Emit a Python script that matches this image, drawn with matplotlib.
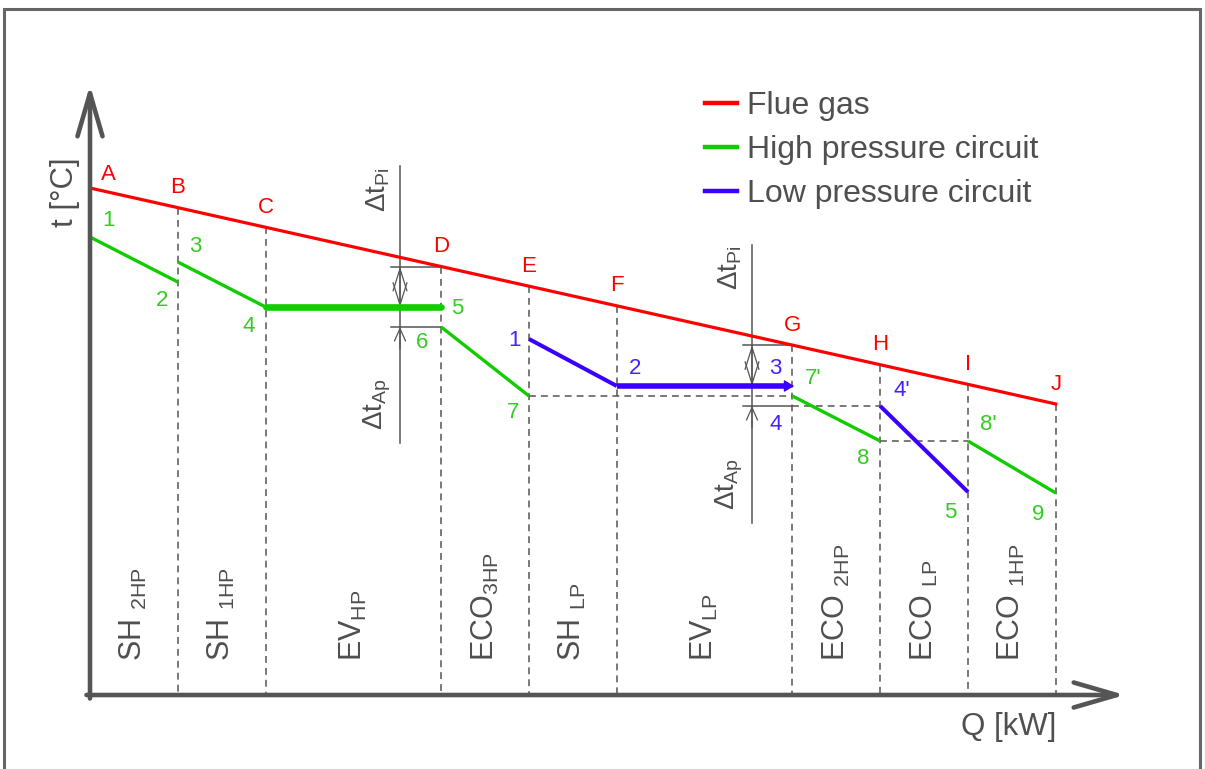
import numpy as np
import matplotlib
matplotlib.use('Agg')
import matplotlib.pyplot as plt
from matplotlib.patches import Rectangle
from matplotlib.lines import Line2D

plt.rcParams['font.family'] = ['Liberation Sans', 'DejaVu Sans']
plt.rcParams['mathtext.fontset'] = 'custom'
plt.rcParams['mathtext.rm'] = 'Liberation Sans'
plt.rcParams['mathtext.it'] = 'Liberation Sans'
plt.rcParams['mathtext.bf'] = 'Liberation Sans:bold'

# ---------------- data ----------------
node_names = ['A', 'B', 'C', 'D', 'E', 'F', 'G', 'H', 'I', 'J']
node_Q = [0, 1, 2, 4, 5, 6, 8, 9, 10, 11]
flue_Q = [0, 11]
flue_t = [507, 291]

hp_names = ['1', '2', '3', '4', '5', '6', '7', "7'", '8', "8'", '9']
hp_Q = [0, 1, 1, 2, 4, 4, 5, 8, 9, 10, 11]
hp_t = [458, 413, 433, 388, 388, 368, 299, 299, 254, 254, 202]
hp_links = [(0, 1), (2, 3), (5, 6), (7, 8), (9, 10)]
hp_evap_link = (3, 4)

lp_names = ['1', '2', '3', '4', "4'", '5']
lp_Q = [5, 6, 8, 8, 9, 10]
lp_t = [356, 309, 309, 289, 289, 203]
lp_links = [(0, 1), (4, 5)]
lp_evap_link = (1, 2)

sections = [r'$\mathrm{SH}\ {}_{\mathrm{2HP}}$', r'$\mathrm{SH}\ {}_{\mathrm{1HP}}$',
            r'$\mathrm{EV}_{\mathrm{HP}}$', r'$\mathrm{ECO}_{\mathrm{3HP}}$',
            r'$\mathrm{SH}\ {}_{\mathrm{LP}}$', r'$\mathrm{EV}_{\mathrm{LP}}$',
            r'$\mathrm{ECO}\ {}_{\mathrm{2HP}}$', r'$\mathrm{ECO}\ {}_{\mathrm{LP}}$',
            r'$\mathrm{ECO}\ {}_{\mathrm{1HP}}$']

# ---------------- style ----------------
RED = '#ff0000'
GREEN = '#11cc00'
BLUE = '#3a00ff'
GTXT = '#33cc22'
BTXT = '#4422ff'
GRAY = '#555555'
TXT = '#4f4f4f'
PX = 87.8  # pixels per Q unit
LFS = 16   # point label font size

fig = plt.figure(figsize=(12.05, 7.69), dpi=100)
ax = fig.add_axes([0, 0, 1, 1])
ax.set_xlim(-90 / PX, (1205 - 90) / PX)
ax.set_ylim(695 - 769, 695)
ax.axis('off')

# frame
fig.add_artist(Rectangle((4 / 1205, -0.05), 1196 / 1205, (769 - 9) / 769 + 0.05,
                         transform=fig.transFigure, fill=False, ec='#666666', lw=2.2))

def flue(q):
    return np.interp(q, flue_Q, flue_t)

# vertical dashed lines
for q in node_Q[1:]:
    ax.plot([q, q], [flue(q), 0], color=GRAY, lw=1.1, dashes=(4.5, 3.3), zorder=1)

# horizontal dashed lines
ax.plot([hp_Q[6], hp_Q[7]], [hp_t[6], hp_t[7]], color=GRAY, lw=1.1, dashes=(4.5, 3.3), zorder=1)
ax.plot([lp_Q[3], lp_Q[4]], [lp_t[3], lp_t[4]], color=GRAY, lw=1.1, dashes=(4.5, 3.3), zorder=1)
ax.plot([hp_Q[8], hp_Q[9]], [hp_t[8], hp_t[9]], color=GRAY, lw=1.1, dashes=(4.5, 3.3), zorder=1)

# flue gas
ax.plot(flue_Q, flue_t, color=RED, lw=2.3, zorder=4)

# HP circuit
for i, j in hp_links:
    ax.plot([hp_Q[i], hp_Q[j]], [hp_t[i], hp_t[j]], color=GREEN, lw=2.4, zorder=4,
            solid_capstyle='butt')
i, j = hp_evap_link
ax.plot([hp_Q[i], hp_Q[j]], [hp_t[i], hp_t[j]], color=GREEN, lw=4.8, zorder=4,
        solid_capstyle='round')

# LP circuit
for i, j in lp_links:
    ax.plot([lp_Q[i], lp_Q[j]], [lp_t[i], lp_t[j]], color=BLUE, lw=2.9, zorder=4,
            solid_capstyle='butt')
i, j = lp_evap_link
ax.plot([lp_Q[i], lp_Q[j] - 0.06], [lp_t[i], lp_t[j]], color=BLUE, lw=4.0, zorder=4,
        solid_capstyle='butt')
ax.annotate('', xy=(lp_Q[j] + 0.02, lp_t[j]), xytext=(lp_Q[j] - 0.1, lp_t[j]),
            arrowprops=dict(arrowstyle='-|>,head_length=0.5,head_width=0.3', color=BLUE,
                            lw=1.0, shrinkA=0, shrinkB=0, mutation_scale=12), zorder=5)

# axes arrows
astyle = '->,head_length=1.55,head_width=0.45'
ax.annotate('', xy=(0, 610), xytext=(0, -3.5),
            arrowprops=dict(arrowstyle=astyle, lw=3.3, color=GRAY, shrinkA=0, shrinkB=0,
                            mutation_scale=20), zorder=6)
ax.annotate('', xy=((1125 - 90) / PX, 0), xytext=(-3.5 / PX, 0),
            arrowprops=dict(arrowstyle=astyle, lw=3.3, color=GRAY, shrinkA=0, shrinkB=0,
                            mutation_scale=20), zorder=6)
ax.text(-25 / PX, 503, 't [°C]', rotation=90, ha='center', va='center', fontsize=22.5, color=TXT)
ax.text((1009 - 90) / PX, -32, 'Q [kW]', ha='center', va='center', fontsize=22.5, color=TXT)

# node letters
for k, (name, q) in enumerate(zip(node_names, node_Q)):
    off = (18, 13) if k == 0 else (0, 20)
    ax.annotate(name, (q, flue(q)), xytext=off, textcoords='offset pixels',
                ha='center', va='center', fontsize=LFS, color=RED, zorder=7)

hp_off = [(18, 17), (-16, -18), (17, 15), (-17, -20), (16, -1), (-19, -16),
          (-16, -17), (21, 18), (-17, -17), (20, 16), (-18, -22)]
for name, q, t, off in zip(hp_names, hp_Q, hp_t, hp_off):
    ax.annotate(name, (q, t), xytext=off, textcoords='offset pixels',
                ha='center', va='center', fontsize=LFS, color=GTXT, zorder=7)

lp_off = [(-15, -1), (18, 18), (-17, 18), (-17, -19), (22, 16), (-18, -20)]
lp_col = [BTXT, BTXT, BTXT, BTXT, BTXT, GTXT]
for name, q, t, off, c in zip(lp_names, lp_Q, lp_t, lp_off, lp_col):
    ax.annotate(name, (q, t), xytext=off, textcoords='offset pixels',
                ha='center', va='center', fontsize=LFS, color=c, zorder=7)

# temperature difference markers
def dt_marker(qx, q_end, t_top, t_mid, t_low, t_line_top, t_line_bot, lab_pi_t, lab_ap_t):
    ax.plot([qx, qx], [t_line_top, t_line_bot], color=GRAY, lw=1.1, zorder=3)
    for tt in (t_top, t_mid, t_low):
        ax.plot([qx - 9 / PX, q_end], [tt, tt], color=GRAY, lw=1.1, zorder=3)
    ax.annotate('', xy=(qx, t_top), xytext=(qx, t_mid),
                arrowprops=dict(arrowstyle='<->,head_length=1.6,head_width=0.5', color=GRAY,
                                lw=0.9, shrinkA=0, shrinkB=0, mutation_scale=10), zorder=3)
    ax.annotate('', xy=(qx, t_low), xytext=(qx, t_low - 22),
                arrowprops=dict(arrowstyle='->,head_length=0.9,head_width=0.4', color=GRAY,
                                lw=0.9, shrinkA=0, shrinkB=0, mutation_scale=10), zorder=3)
    ax.text(qx - 22 / PX, lab_pi_t, r'$\Delta \mathrm{t}_{\mathrm{Pi}}$', rotation=90,
            ha='center', va='center', fontsize=20, color=TXT)
    ax.text(qx - 23 / PX, lab_ap_t, r'$\Delta \mathrm{t}_{\mathrm{Ap}}$', rotation=90,
            ha='center', va='center', fontsize=20, color=TXT)

dt_marker((400 - 90) / PX, node_Q[3], flue(node_Q[3]), hp_t[4], hp_t[5], 529, 252, 505, 291)
dt_marker((752 - 90) / PX, node_Q[6], flue(node_Q[6]), lp_t[2], lp_t[3], 450, 172, 427, 211)

# section labels
for k, lab in enumerate(sections):
    qc = (node_Q[k] + node_Q[k + 1]) / 2
    ax.text(qc, 34, lab, rotation=90, rotation_mode='anchor', ha='left', va='center',
            fontsize=22, color=TXT)

# legend
handles = [Line2D([], [], color=RED, lw=3.2), Line2D([], [], color=GREEN, lw=3.2),
           Line2D([], [], color=BLUE, lw=3.2)]
labels = ['Flue gas', 'High pressure circuit', 'Low pressure circuit']
ax.legend(handles, labels, loc='upper left', bbox_to_anchor=(705 / 1205, 1 - 91 / 769),
          bbox_transform=fig.transFigure, frameon=False, fontsize=23, handlelength=1.0,
          handletextpad=0.31, labelspacing=0.44, borderpad=0, borderaxespad=0,
          labelcolor=TXT)

fig.savefig('out.png', dpi=100)
